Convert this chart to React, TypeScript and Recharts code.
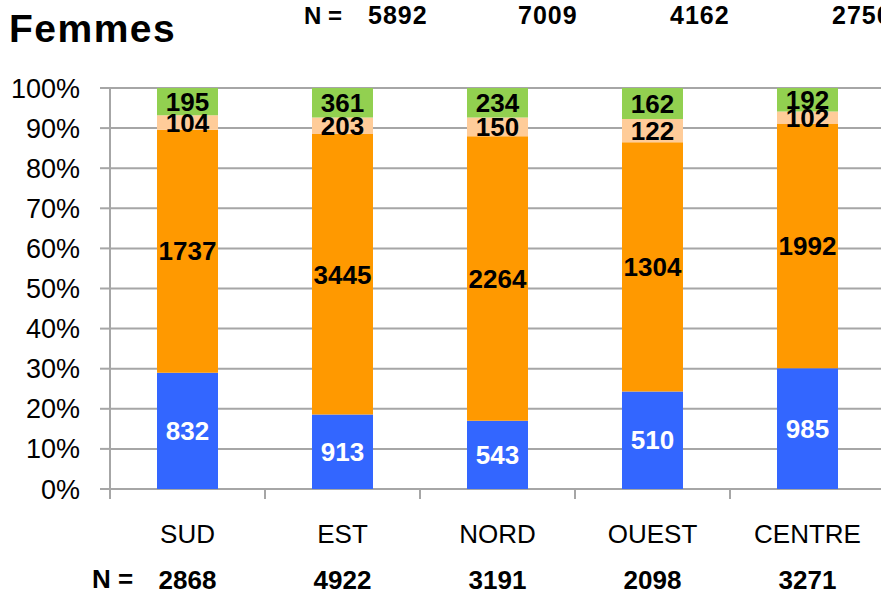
import React from 'react';
import { BarChart, Bar, XAxis, YAxis, CartesianGrid, LabelList } from 'recharts';

const categories = ['SUD', 'EST', 'NORD', 'OUEST', 'CENTRE'];
const blueValues = [832, 913, 543, 510, 985];
const orangeValues = [1737, 3445, 2264, 1304, 1992];
const peachValues = [104, 203, 150, 122, 102];
const greenValues = [195, 361, 234, 162, 192];
const bottomN = [2868, 4922, 3191, 2098, 3271];
const topN = ['5892', '7009', '4162', '2750'];
const yTicks = [0, 0.1, 0.2, 0.3, 0.4, 0.5, 0.6, 0.7, 0.8, 0.9, 1];
const edgeTicks = [0, 1, 2, 3, 4, 5];

const data = categories.map((name, i) => ({
  name,
  pos: i + 0.5,
  blue: blueValues[i],
  orange: orangeValues[i],
  peach: peachValues[i],
  green: greenValues[i],
  n: bottomN[i],
}));

const FONT = '"Liberation Sans", Arial, sans-serif';
const GRID = '#a6a6a6';

const CategoryTick = (props: any) => {
  const { x, y, payload, index } = props;
  return (
    <g>
      <text x={x} y={y + 53} textAnchor="middle" fontFamily={FONT} fontSize={26} fill="#000">
        {payload.value}
      </text>
      <text x={x} y={y + 99} textAnchor="middle" fontFamily={FONT} fontSize={26} fontWeight="bold" fill="#000">
        {bottomN[index]}
      </text>
    </g>
  );
};

const labelStyle = (fill: string) => ({
  fill,
  fontFamily: FONT,
  fontSize: 26,
  fontWeight: 'bold' as const,
});

const topX = [368, 518, 670, 832];

export default function App() {
  return (
    <div style={{ position: 'absolute', left: 0, top: 0, width: 881, height: 592, overflow: 'hidden', background: '#fff' }}>
      <BarChart
        width={881}
        height={592}
        data={data}
        stackOffset="expand"
        margin={{ top: 88, right: -4, left: 0, bottom: 0 }}
        barSize={61}
      >
        <CartesianGrid vertical={false} stroke={GRID} strokeWidth={2} yAxisId="y" xAxisId="b" />
        <XAxis
          xAxisId="a"
          type="number"
          dataKey="pos"
          domain={[0, 5]}
          ticks={edgeTicks}
          allowDataOverflow
          interval={0}
          height={1}
          axisLine={false}
          tickLine={{ stroke: GRID, strokeWidth: 2 }}
          tickSize={10}
          tick={() => <g />}
        />
        <XAxis
          xAxisId="b"
          dataKey="name"
          height={102}
          axisLine={false}
          tickLine={false}
          tickSize={0}
          tickMargin={0}
          interval={0}
          tick={<CategoryTick />}
        />
        <YAxis
          yAxisId="y"
          width={110}
          domain={[0, 1]}
          ticks={yTicks}
          tickFormatter={(v: number) => `${Math.round(v * 100)}%`}
          axisLine={{ stroke: GRID, strokeWidth: 2 }}
          tickLine={{ stroke: GRID, strokeWidth: 2 }}
          tickSize={10}
          tickMargin={20}
          tick={{ fill: '#000', fontSize: 27, fontFamily: FONT }}
        />
        <Bar dataKey="blue" stackId="s" xAxisId="b" yAxisId="y" fill="#3366ff" isAnimationActive={false}>
          <LabelList dataKey="blue" position="center" style={labelStyle('#ffffff')} />
        </Bar>
        <Bar dataKey="orange" stackId="s" xAxisId="b" yAxisId="y" fill="#ff9900" isAnimationActive={false}>
          <LabelList dataKey="orange" position="center" style={labelStyle('#000000')} />
        </Bar>
        <Bar dataKey="peach" stackId="s" xAxisId="b" yAxisId="y" fill="#ffcc99" isAnimationActive={false}>
          <LabelList dataKey="peach" position="center" style={labelStyle('#000000')} />
        </Bar>
        <Bar dataKey="green" stackId="s" xAxisId="b" yAxisId="y" fill="#92d050" isAnimationActive={false}>
          <LabelList dataKey="green" position="center" style={labelStyle('#000000')} />
        </Bar>
      </BarChart>
      <svg width={881} height={592} style={{ position: 'absolute', left: 0, top: 0, pointerEvents: 'none' }}>
        <text x={9} y={42} fontFamily={FONT} fontSize={39} fontWeight="bold" letterSpacing={1.5} fill="#000">
          Femmes
        </text>
        <text x={304} y={24} fontFamily={FONT} fontSize={24} fontWeight="bold" fill="#000">
          N =
        </text>
        {topN.map((v, i) => (
          <text key={v} x={topX[i]} y={24} fontFamily={FONT} fontSize={25} fontWeight="bold" letterSpacing={1} fill="#000">
            {v}
          </text>
        ))}
        <text x={92} y={588} fontFamily={FONT} fontSize={26} fontWeight="bold" fill="#000">
          N =
        </text>
      </svg>
    </div>
  );
}
